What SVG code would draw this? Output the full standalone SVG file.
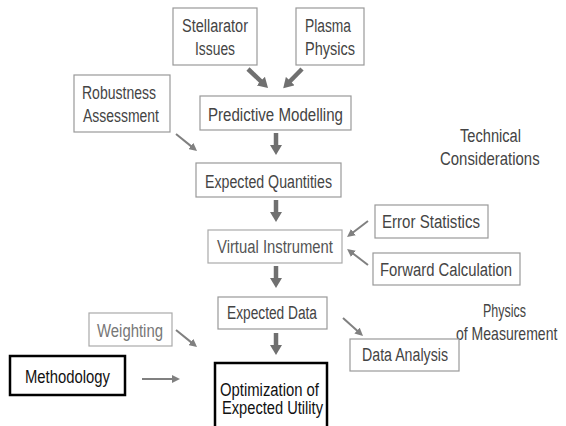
<svg xmlns="http://www.w3.org/2000/svg" width="566" height="426" viewBox="0 0 566 426">
<style>
.box{fill:#fff;stroke:#999;stroke-width:1.2}
.bold{fill:#fff;stroke:#000;stroke-width:2.5}
.t{font-family:"Liberation Sans",Arial,sans-serif;font-size:18px;fill:#444}
.lt{fill:#777}
.blk{fill:#111}
.thick{stroke:#707070;stroke-width:4.5;fill:none;marker-end:url(#hk)}
.thin{stroke:#808080;stroke-width:2;fill:none;marker-end:url(#hn)}
</style>
<defs>
<marker id="hk" markerUnits="userSpaceOnUse" viewBox="0 0 10 12" markerWidth="10" markerHeight="12" refX="1" refY="6" orient="auto"><path d="M0,0 L10,6 L0,12 z" fill="#707070"/></marker>
<marker id="hn" markerUnits="userSpaceOnUse" viewBox="0 0 8 8" markerWidth="8" markerHeight="8" refX="1" refY="4" orient="auto"><path d="M0,0 L8,4 L0,8 z" fill="#808080"/></marker>
</defs>
<rect width="566" height="426" fill="#fff"/>
<g id="connectors">
<line class="thick" x1="248" y1="69" x2="261.5" y2="81.8"/>
<line class="thick" x1="302" y1="69" x2="289.5" y2="81.8"/>
<line class="thick" x1="276" y1="133" x2="276" y2="146"/>
<line class="thick" x1="276" y1="200" x2="276" y2="213"/>
<line class="thick" x1="276" y1="266" x2="276" y2="279"/>
<line class="thick" x1="276" y1="333" x2="276" y2="346"/>
<line class="thin" x1="176" y1="134" x2="191.6" y2="146.6"/>
<line class="thin" x1="176" y1="330" x2="191.6" y2="342.6"/>
<line class="thin" x1="142" y1="379" x2="173" y2="379"/>
<line class="thin" x1="368" y1="221" x2="352.6" y2="232.8"/>
<line class="thin" x1="368" y1="265" x2="352.6" y2="253.2"/>
<line class="thin" x1="343" y1="318" x2="357.8" y2="331.3"/>
</g>
<g id="stellarator"><rect class="box" x="173" y="8" width="84" height="57"/>
<text class="t" x="182" y="32" textLength="66" lengthAdjust="spacingAndGlyphs">Stellarator</text>
<text class="t" x="195" y="55" textLength="40" lengthAdjust="spacingAndGlyphs">Issues</text></g>
<g id="plasma"><rect class="box" x="296" y="8" width="68" height="57"/>
<text class="t" x="305" y="32" textLength="46" lengthAdjust="spacingAndGlyphs">Plasma</text>
<text class="t" x="305" y="55" textLength="50" lengthAdjust="spacingAndGlyphs">Physics</text></g>
<g id="robustness"><rect class="box" x="74" y="75" width="96" height="57"/>
<text class="t" x="82" y="99" textLength="74" lengthAdjust="spacingAndGlyphs">Robustness</text>
<text class="t" x="83" y="122" textLength="76" lengthAdjust="spacingAndGlyphs">Assessment</text></g>
<g id="predictive"><rect class="box" x="200" y="96" width="151" height="34"/>
<text class="t" x="208" y="121" textLength="135" lengthAdjust="spacingAndGlyphs">Predictive Modelling</text></g>
<g id="expected-quantities"><rect class="box" x="196" y="163" width="145" height="34"/>
<text class="t" x="205" y="188" textLength="127" lengthAdjust="spacingAndGlyphs">Expected Quantities</text></g>
<g id="technical">
<text class="t" x="460" y="142" textLength="61" lengthAdjust="spacingAndGlyphs">Technical</text>
<text class="t" transform="translate(440,165) scale(0.83,1)">Considerations</text></g>
<g id="virtual"><rect class="box" x="208" y="230" width="134" height="33" style="stroke:#aaa"/>
<text class="t" x="217" y="253" textLength="116" lengthAdjust="spacingAndGlyphs" style="fill:#555">Virtual Instrument</text></g>
<g id="error"><rect class="box" x="375" y="205" width="113" height="33"/>
<text class="t" x="382" y="228" textLength="98" lengthAdjust="spacingAndGlyphs">Error Statistics</text></g>
<g id="forward"><rect class="box" x="373" y="253" width="147" height="32"/>
<text class="t" x="380" y="276" textLength="132" lengthAdjust="spacingAndGlyphs">Forward Calculation</text></g>
<g id="expected-data"><rect class="box" x="218" y="297" width="109" height="32"/>
<text class="t" x="227" y="319" textLength="90" lengthAdjust="spacingAndGlyphs">Expected Data</text></g>
<g id="physics">
<text class="t" x="483" y="317" textLength="43" lengthAdjust="spacingAndGlyphs">Physics</text>
<text class="t" transform="translate(456,340) scale(0.78,1)">of Measurement</text></g>
<g id="weighting"><rect class="box" x="89" y="313" width="83" height="33" style="stroke:#aaa"/>
<text class="t lt" x="97" y="337" textLength="66" lengthAdjust="spacingAndGlyphs">Weighting</text></g>
<g id="data-analysis"><rect class="box" x="350" y="339" width="109" height="32"/>
<text class="t" x="362" y="361" textLength="86" lengthAdjust="spacingAndGlyphs">Data Analysis</text></g>
<g id="methodology"><rect class="bold" x="10" y="356" width="115" height="39"/>
<text class="t blk" x="25" y="383" textLength="85" lengthAdjust="spacingAndGlyphs">Methodology</text></g>
<g id="optimization"><rect class="bold" x="215" y="363" width="112" height="80"/>
<text class="t blk" x="220" y="396" textLength="99" lengthAdjust="spacingAndGlyphs">Optimization of</text>
<text class="t blk" x="222" y="414" textLength="101" lengthAdjust="spacingAndGlyphs">Expected Utility</text></g>
</svg>
